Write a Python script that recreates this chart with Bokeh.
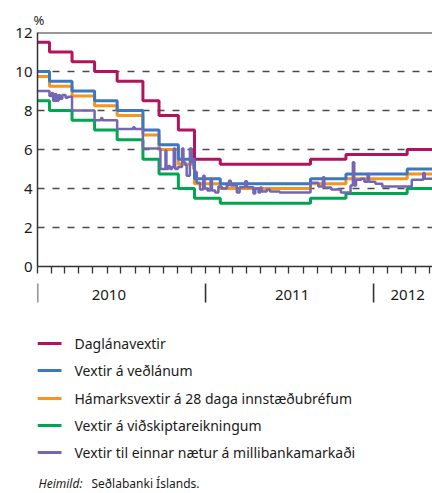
import pandas as pd
from bokeh.plotting import figure
from bokeh.models import Range1d, FixedTicker, Span, CustomJSTickFormatter
from bokeh.layouts import column
from bokeh.core.properties import value
from bokeh.embed import file_html
from bokeh.resources import INLINE

# ---------------- data ----------------
step_dates = ["2010-01-01", "2010-01-27", "2010-03-17", "2010-05-05", "2010-06-23",
              "2010-08-18", "2010-09-22", "2010-11-03", "2010-12-08", "2011-02-02",
              "2011-08-17", "2011-11-02", "2012-03-14"]
end_date = "2012-05-08"
daglan = [11.5, 11.0, 10.5, 10.0, 9.5, 8.5, 7.75, 7.0, 5.5, 5.25, 5.5, 5.75, 6.0]
vedlan = [10.0, 9.5, 9.0, 8.5, 8.0, 7.0, 6.25, 5.5, 4.5, 4.25, 4.5, 4.75, 5.0]
hamark = [9.75, 9.25, 8.75, 8.25, 7.75, 6.75, 6.0, 5.25, 4.25, 4.0, 4.25, 4.5, 4.75]
vidsk = [8.5, 8.0, 7.5, 7.0, 6.5, 5.5, 4.75, 4.0, 3.5, 3.25, 3.5, 3.75, 4.0]

milli_dates = ["2010-01-01", "2010-01-27", "2010-02-01", "2010-02-04", "2010-02-08", "2010-02-11",
               "2010-02-16", "2010-02-19", "2010-02-24", "2010-03-03", "2010-03-08", "2010-03-17",
               "2010-05-05", "2010-05-19", "2010-05-22", "2010-06-23", "2010-07-28", "2010-07-31",
               "2010-08-18", "2010-09-25", "2010-10-06", "2010-10-08", "2010-10-12", "2010-10-16",
               "2010-10-20", "2010-10-24", "2010-10-27", "2010-11-02", "2010-11-11", "2010-11-14",
               "2010-11-18", "2010-11-21", "2010-11-28", "2010-12-02", "2010-12-06", "2010-12-09",
               "2010-12-13", "2010-12-20", "2010-12-27", "2010-12-30", "2011-01-05", "2011-01-12",
               "2011-01-15", "2011-01-22", "2011-01-29", "2011-02-05", "2011-02-16", "2011-02-21",
               "2011-02-25", "2011-03-10", "2011-03-16", "2011-03-28", "2011-04-01", "2011-04-15",
               "2011-04-19", "2011-04-26", "2011-04-30", "2011-05-03", "2011-05-14", "2011-05-21",
               "2011-06-11", "2011-08-17", "2011-09-03", "2011-09-13", "2011-09-16", "2011-10-01",
               "2011-10-22", "2011-11-12", "2011-11-17", "2011-11-20", "2011-11-24", "2011-12-05",
               "2011-12-12", "2011-12-19", "2011-12-22", "2012-01-05", "2012-01-20", "2012-03-24",
               "2012-04-18", "2012-04-21", "2012-05-08"]
milli = [9.0, 8.75, 8.9, 8.5, 8.85, 8.5,
         8.8, 8.6, 8.8, 8.65, 8.7, 8.0,
         7.5, 7.62, 7.5, 7.05, 7.14, 7.05,
         6.05, 5.0, 5.95, 5.0, 5.15, 5.0,
         5.1, 6.05, 5.0, 5.1, 6.05, 5.35,
         5.2, 4.65, 6.05, 5.35, 5.0, 4.85,
         4.3, 3.95, 4.65, 4.0, 3.9, 4.5,
         3.9, 3.8, 4.1, 4.0, 4.15, 4.4,
         4.15, 3.8, 4.07, 4.37, 4.07, 3.75,
         4.0, 3.8, 4.05, 3.85, 3.95, 3.85,
         3.8, 4.3, 4.1, 4.58, 4.05, 3.95,
         3.8, 4.15, 5.35, 4.15, 4.45, 4.5,
         4.35, 4.75, 4.35, 4.25, 4.1, 4.45,
         4.8, 4.5, 4.5]

y_ticks = [0, 2, 4, 6, 8, 10, 12]
grid_ticks = [2, 4, 6, 8, 10]
year_sep_dates = ["2010-01-01", "2011-01-01", "2012-01-01"]
year_labels = ["2010", "2011", "2012"]
year_label_dates = ["2010-06-05", "2011-07-08", "2012-03-15"]

legend_labels = ["Daglánavextir", "Vextir á veðlánum", "Hámarksvextir á 28 daga innstæðubréfum",
                 "Vextir á viðskiptareikningum", "Vextir til einnar nætur á millibankamarkaði"]
colors = ["#B3135B", "#3B78C0", "#F7941D", "#00A651", "#7366B2"]

FONT = "Noto Sans"
TXT = "#1a1a1a"
AX = "#333333"
W = 432
LEFT = 37

def ts(s):
    return pd.Timestamp(s)

def ms(s):
    return pd.Timestamp(s).value / 1e6

# ---------------- main chart ----------------
xr = Range1d(start=ts(step_dates[0]), end=ts(end_date))
p = figure(width=W, height=276, x_axis_type="datetime", x_range=xr, y_range=Range1d(0, 12),
           output_backend="svg", toolbar_location=None, title="%",
           min_border_left=LEFT, min_border_right=0, min_border_top=32, min_border_bottom=10)
p.title.text_font = FONT
p.title.text_font_size = "13px"
p.title.text_font_style = "normal"
p.title.text_color = TXT
p.title.offset = -4
p.title.standoff = 8

p.outline_line_color = None
p.background_fill_color = "white"
p.border_fill_color = "white"

p.xgrid.visible = False
p.ygrid.ticker = FixedTicker(ticks=grid_ticks)
p.ygrid.grid_line_color = "#4a4a4a"
p.ygrid.grid_line_width = 1.4
p.ygrid.grid_line_dash = "7 8"

p.yaxis.ticker = FixedTicker(ticks=y_ticks)
p.yaxis.major_tick_out = 0
p.yaxis.major_tick_in = 0
p.yaxis.minor_tick_out = 0
p.yaxis.minor_tick_in = 0
p.yaxis.axis_line_color = AX
p.yaxis.axis_line_width = 1.5
p.yaxis.major_label_text_font = FONT
p.yaxis.major_label_text_font_size = "15px"
p.yaxis.major_label_text_color = TXT
p.yaxis.major_label_standoff = 5

months = pd.date_range(step_dates[0], end_date, freq="MS")
p.xaxis.ticker = FixedTicker(ticks=[m.value / 1e6 for m in months], minor_ticks=[])
p.xaxis.formatter = CustomJSTickFormatter(code="return ''")
p.xaxis.major_tick_out = 7
p.xaxis.major_tick_in = 0
p.xaxis.major_tick_line_color = AX
p.xaxis.major_tick_line_width = 1.3
p.xaxis.minor_tick_out = 0
p.xaxis.minor_tick_in = 0
p.xaxis.axis_line_color = AX
p.xaxis.axis_line_width = 1.5
p.xaxis.major_label_standoff = 0
p.xaxis.major_label_text_font_size = "1px"

p.add_layout(Span(location=12, dimension="width", line_color=AX, line_width=2))

sx = [ts(d) for d in step_dates] + [ts(end_date)]
series = [daglan, vedlan, hamark, vidsk]
order = [0, 3, 2, 1]
for i in order:
    vals = series[i] + [series[i][-1]]
    p.step(x=sx, y=vals, mode="after", line_color=colors[i], line_width=3)
p.step(x=[ts(d) for d in milli_dates], y=milli, mode="after", line_color=colors[4], line_width=2.5)

# ---------------- year band ----------------
b = figure(width=W, height=34, x_range=xr, y_range=Range1d(34, 0),
           output_backend="svg", toolbar_location=None,
           x_axis_location=None, y_axis_location=None,
           min_border_left=LEFT, min_border_right=0, min_border_top=0, min_border_bottom=0)
b.outline_line_color = None
b.grid.visible = False
b.segment(x0=[ms(d) for d in year_sep_dates], y0=[7] * 3, x1=[ms(d) for d in year_sep_dates],
          y1=[26] * 3, line_color=AX, line_width=1.6)
b.text(x=[ms(d) for d in year_label_dates], y=[18] * 3, text=year_labels,
       text_align="center", text_baseline="middle", text_font=value(FONT),
       text_font_size="15px", text_color=TXT)

# ---------------- legend + source ----------------
CH = 183
c = figure(width=W, height=CH, x_range=Range1d(0, W - LEFT), y_range=Range1d(CH, 0),
           output_backend="svg", toolbar_location=None,
           x_axis_location=None, y_axis_location=None,
           min_border_left=LEFT, min_border_right=0, min_border_top=0, min_border_bottom=0)
c.outline_line_color = None
c.grid.visible = False
rows = [33, 60, 88, 115, 142]
for lab, col, yy in zip(legend_labels, colors, rows):
    c.segment(x0=[0], y0=[yy], x1=[24], y1=[yy], line_color=col, line_width=3)
    c.text(x=[37], y=[yy], text=[lab], text_baseline="middle", text_font=value(FONT),
           text_font_size="14px", text_color=TXT)
c.text(x=[1], y=[181], text=["Heimild:"], text_baseline="bottom", text_font=value(FONT),
       text_font_size="12px", text_font_style="italic", text_color=TXT)
c.text(x=[54], y=[181], text=["Seðlabanki Íslands."], text_baseline="bottom", text_font=value(FONT),
       text_font_size="12px", text_color=TXT)

layout = column(p, b, c, spacing=0)
open("out.html", "w").write(file_html(layout, INLINE))
